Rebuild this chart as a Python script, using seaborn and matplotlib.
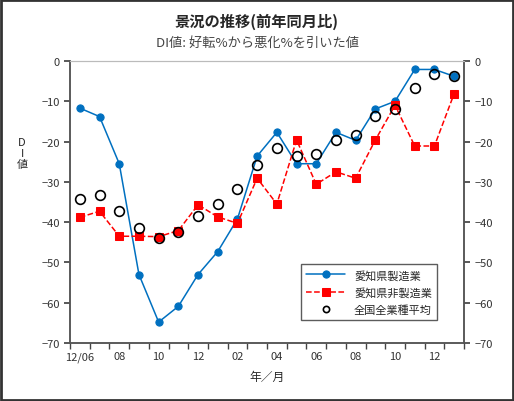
import numpy as np
import pandas as pd
import matplotlib
matplotlib.use("Agg")
import matplotlib.pyplot as plt
import matplotlib.ticker as mticker
import seaborn as sns

sns.set_theme(style="white")
plt.rcParams["font.family"] = ["Noto Sans CJK JP", "DejaVu Sans"]
plt.rcParams["axes.unicode_minus"] = True

# ── DATA ─────────────────────────────────────────────────────────────────────
months = ["12/06", "07", "08", "09", "10", "11", "12", "01", "02", "03",
          "04", "05", "06", "07", "08", "09", "10", "11", "12", "01"]
aichi_mfg = [-11.7, -13.8, -25.5, -53.0, -64.8, -60.9, -53.0, -47.3, -39.2, -23.6,
             -17.7, -25.5, -25.5, -17.7, -19.7, -11.9, -10.0, -2.1, -2.1, -3.8]
aichi_nonmfg = [-38.8, -37.3, -43.5, -43.5, -43.6, -42.1, -35.7, -38.7, -40.3, -29.1,
                -35.5, -19.6, -30.6, -27.5, -29.1, -19.6, -11.0, -21.1, -21.1, -8.1]
national_avg = [-34.3, -33.3, -37.2, -41.4, -43.9, -42.5, -38.5, -35.5, -31.7, -25.8,
                -21.6, -23.7, -23.1, -19.7, -18.3, -13.7, -11.9, -6.8, -3.3, -3.8]

df = pd.DataFrame({"idx": range(len(months)), "month": months,
                   "mfg": aichi_mfg, "nonmfg": aichi_nonmfg, "nat": national_avg})

# ── PLOT ─────────────────────────────────────────────────────────────────────
fig = plt.figure(figsize=(5.14, 4.02), dpi=100)
ax = fig.add_axes([70 / 514, 1 - 344 / 402, 394 / 514, 282 / 402])

sns.lineplot(data=df, x="idx", y="mfg", ax=ax, color="#0070C0", lw=1.1,
             marker="o", markersize=5.2, markeredgecolor="#0070C0",
             label="愛知県製造業")
sns.lineplot(data=df, x="idx", y="nonmfg", ax=ax, color="#FF0000", lw=1.1,
             linestyle="--", marker="s", markersize=5.2, markeredgecolor="#FF0000",
             label="愛知県非製造業")
ax.plot(df["idx"], df["nat"], linestyle="none", marker="o", markersize=7,
        markerfacecolor="none", markeredgecolor="black", markeredgewidth=1.2,
        label="全国全業種平均")

ax.set_xlim(-0.5, len(months) - 0.5)
ax.set_ylim(-70, 0)
ax.yaxis.set_major_locator(mticker.MultipleLocator(10))

tick_idx = list(range(0, len(months), 2))
ax.set_xticks(tick_idx)
ax.set_xticklabels([months[i] for i in tick_idx], fontsize=8, color="#333333")
ax.set_xticks(np.arange(-0.5, len(months), 1), minor=True)
ax.tick_params(axis="x", which="major", length=0, pad=6)
ax.tick_params(axis="x", which="minor", length=4, direction="out", color="#444444",
               bottom=True)
ax.tick_params(axis="y", length=4, direction="out", left=True, labelsize=8,
               labelcolor="#333333", color="#444444")
ax.set_xlabel("年／月", fontsize=8.5, labelpad=6)
ax.set_ylabel("")

ax2 = ax.twinx()
ax2.set_ylim(-70, 0)
ax2.yaxis.set_major_locator(mticker.MultipleLocator(10))
ax2.tick_params(axis="y", length=4, direction="out", right=True, labelsize=8,
                labelcolor="#333333", color="#444444")

for a in (ax, ax2):
    for side in ("left", "bottom", "right"):
        a.spines[side].set_color("#555555")
        a.spines[side].set_linewidth(1.1)
    a.spines["top"].set_color("#BBBBBB")
    a.spines["top"].set_linewidth(0.8)

fig.text(22 / 514, 1 - 154 / 402, "D\nI\n値", ha="center", va="center",
         fontsize=8, linespacing=1.15)

fig.text(0.5, 1 - 22 / 402, "景況の推移(前年同月比)", ha="center", va="center",
         fontsize=11, fontweight="bold")
fig.text(0.5, 1 - 43 / 402, "DI値: 好転%から悪化%を引いた値", ha="center",
         va="center", fontsize=9.5, color="#444444")

leg = ax.legend(loc="lower right", bbox_to_anchor=(373 / 394, 17 / 282),
                fontsize=8, frameon=True, fancybox=False, edgecolor="#333333",
                handlelength=3.5, borderpad=0.5, labelspacing=0.6)
leg.get_frame().set_linewidth(1.0)
leg.legend_handles[2].set_markersize(4.5)

fig.patches.append(plt.Rectangle((0.002, 0.002), 0.996, 0.996, transform=fig.transFigure,
                                 fill=False, edgecolor="#333333", linewidth=2))

plt.savefig("out.png", dpi=100)
plt.close()
